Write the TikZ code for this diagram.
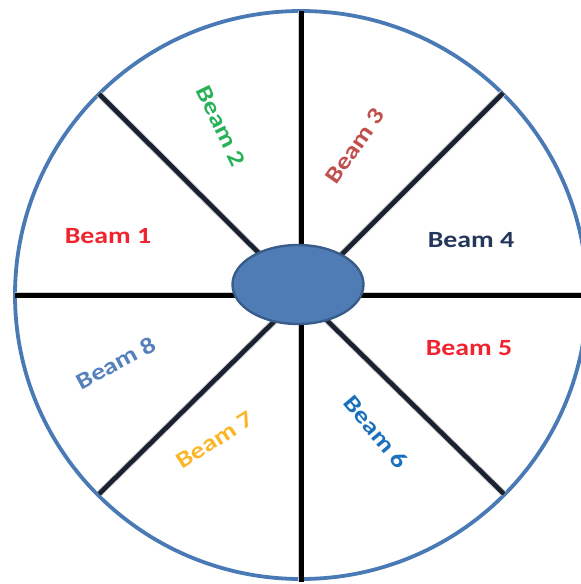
\documentclass[tikz,border=0pt]{standalone}
\usepackage{fontspec}
\usetikzlibrary{shapes.geometric}
\newfontfamily\beamfont[FakeStretch=1.2]{Carlito}
\definecolor{rimblue}{RGB}{74,122,181}
\definecolor{hubfill}{RGB}{79,124,180}
\definecolor{hubedge}{RGB}{56,93,138}
\definecolor{spokenavy}{RGB}{26,34,50}
\definecolor{cRed}{RGB}{240,36,48}
\definecolor{cGreen}{RGB}{40,178,88}
\definecolor{cRose}{RGB}{192,80,77}
\definecolor{cNavy}{RGB}{36,54,92}
\definecolor{cBlue}{RGB}{24,112,190}
\definecolor{cGold}{RGB}{250,182,40}
\definecolor{cSteel}{RGB}{84,128,188}
\tikzset{
  rim/.style={draw=rimblue, line width=3.8pt},
  axisline/.style={draw=black, line width=5pt},
  diagline/.style={draw=spokenavy, line width=4.6pt},
  shadowline/.style={draw=black!20, line width=6.5pt},
  hubstyle/.style={ellipse, draw=hubedge, fill=hubfill, line width=2.4pt,
                   minimum width=131pt, minimum height=79pt, inner sep=0pt},
  beam/.style={font=\beamfont\bfseries\fontsize{23.2}{25}\selectfont, inner sep=0pt}
}
\begin{document}
\begin{tikzpicture}[x=1pt, y=-1pt]
\useasboundingbox (0,0) rectangle (581,584);
% rim
\draw[rim] (301,295) ellipse [x radius=286, y radius=284];
% anchor points
\coordinate (c) at (301,295);
\coordinate (top) at (301,11);
\coordinate (bot) at (301,582);
\coordinate (lft) at (15,295);
\coordinate (rgt) at (590,295);
\coordinate (ul) at (99,94);
\coordinate (ur) at (503,93);
\coordinate (ll) at (99,494);
\coordinate (lr) at (504,494);
% shadows
\begin{scope}[shift={(1.5,3)}]
  \draw[shadowline] (lft) -- (rgt);
  \draw[shadowline] (top) -- (bot);
  \draw[shadowline] (ul) -- (c) -- (lr);
  \draw[shadowline] (ur) -- (c) -- (ll);
\end{scope}
% spokes
\draw[diagline] (ul) -- (c);
\draw[diagline] (ur) -- (c);
\draw[diagline] (ll) -- (c);
\draw[diagline] (lr) -- (c);
\draw[axisline] (lft) -- (rgt);
\draw[axisline] (top) -- (bot);
% hub
\node[hubstyle] (hub) at (298,284.5) {};
% labels
\node[beam, text=cRed] (b1) at (108,236) {Beam 1};
\node[beam, text=cGreen, rotate=-64] (b2) at (221,126) {Beam 2};
\node[beam, text=cRose, rotate=55] (b3) at (355,146) {Beam 3};
\node[beam, text=cNavy] (b4) at (471,240) {Beam 4};
\node[beam, text=cRed] (b5) at (469,348) {Beam 5};
\node[beam, text=cBlue, rotate=-50] (b6) at (376,432) {Beam 6};
\node[beam, text=cGold, rotate=33] (b7) at (215,440) {Beam 7};
\node[beam, text=cSteel, rotate=28] (b8) at (116,363) {Beam 8};
\end{tikzpicture}
\end{document}
